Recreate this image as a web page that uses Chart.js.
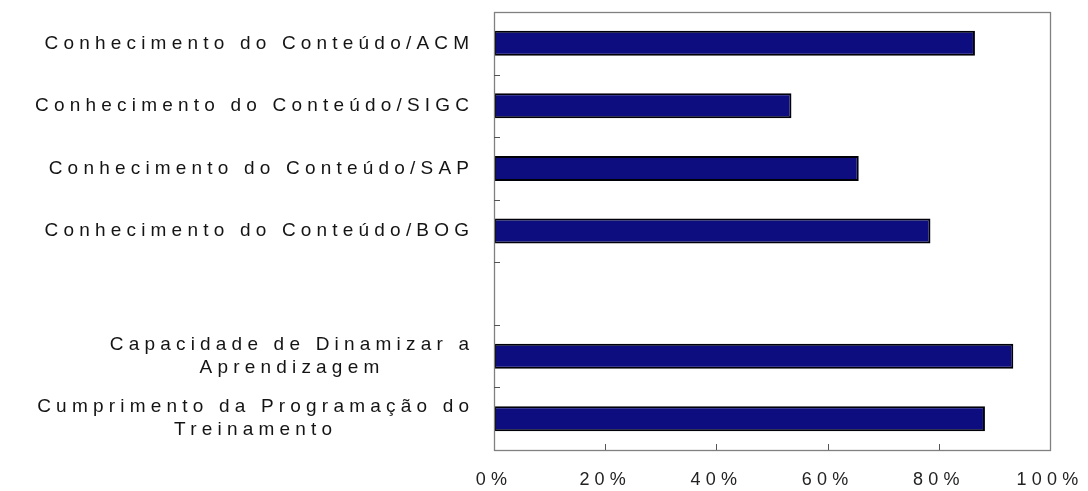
<!DOCTYPE html>
<html lang="pt">
<head>
<meta charset="utf-8">
<title>Avaliação do treinamento</title>
<script src="https://cdn.jsdelivr.net/npm/chart.js@4.4.1/dist/chart.umd.min.js"></script>
<style>
  html, body { margin: 0; padding: 0; background: #ffffff; }
  #wrap { width: 1088px; height: 491px; position: relative; }
</style>
</head>
<body>
<div id="wrap"><canvas id="chart"></canvas></div>
<script>
// Categories (one empty slot separates the two groups)
const categories = [
  ['Conhecimento do Conteúdo/ACM'],
  ['Conhecimento do Conteúdo/SIGC'],
  ['Conhecimento do Conteúdo/SAP'],
  ['Conhecimento do Conteúdo/BOG'],
  [''],
  ['Capacidade de Dinamizar a', 'Aprendizagem'],
  ['Cumprimento da Programação do', 'Treinamento']
];
// Share of positive evaluations, in percent
const values = [86.5, 53.5, 65.6, 78.5, null, 93.4, 88.3];
// Horizontal axis ticks
const xTicks = [0, 20, 40, 60, 80, 100];

const FONT_FAMILY = '"Liberation Sans", Arial, sans-serif';
const LABEL_FONT = '19px ' + FONT_FAMILY;
const SPACING = 5.2;

// Wide letter spacing on all canvas text
const spacingPlugin = {
  id: 'spacing',
  beforeDraw(chart) { chart.ctx.letterSpacing = SPACING + 'px'; },
  afterDraw(chart) { chart.ctx.letterSpacing = '0px'; }
};

// Plot frame and inward tick marks
const framePlugin = {
  id: 'frame',
  afterDatasetsDraw(chart) {
    const { ctx, chartArea: a, scales: { x, y } } = chart;
    ctx.save();
    ctx.strokeStyle = '#808080';
    ctx.lineWidth = 1.3;
    ctx.strokeRect(a.left + 0.5, a.top + 0.5, a.right - a.left, a.bottom - a.top);
    ctx.strokeStyle = '#555';
    ctx.lineWidth = 1;
    ctx.beginPath();
    xTicks.slice(1, -1).forEach(v => {
      const px = Math.round(x.getPixelForValue(v)) + 0.5;
      ctx.moveTo(px, a.bottom);
      ctx.lineTo(px, a.bottom - 6);
    });
    for (let i = 0; i < categories.length - 1; i++) {
      const py = Math.round((y.getPixelForValue(i) + y.getPixelForValue(i + 1)) / 2) + 0.5;
      ctx.moveTo(a.left, py);
      ctx.lineTo(a.left + 6, py);
    }
    ctx.stroke();
    ctx.restore();
  }
};

// Category labels: block right-aligned, lines centred within the block
const categoryLabels = {
  id: 'categoryLabels',
  afterDraw(chart) {
    const { ctx, chartArea: a, scales: { y } } = chart;
    ctx.save();
    ctx.font = LABEL_FONT;
    ctx.letterSpacing = SPACING + 'px';
    ctx.fillStyle = '#141414';
    ctx.textAlign = 'left';
    ctx.textBaseline = 'middle';
    const right = a.left - 25;
    const lineH = 23;
    categories.forEach((lines, i) => {
      const widths = lines.map(t => ctx.measureText(t).width - SPACING);
      const blockW = Math.max(...widths);
      const cx = right - blockW / 2;
      const cy = y.getPixelForValue(i);
      lines.forEach((t, j) => {
        const ly = cy + (j - (lines.length - 1) / 2) * lineH;
        ctx.fillText(t, cx - widths[j] / 2, ly);
      });
    });
    ctx.restore();
  }
};

new Chart(document.getElementById('chart'), {
  type: 'bar',
  data: {
    labels: categories,
    datasets: [{
      data: values,
      backgroundColor: '#0d0d80',
      borderColor: '#000008',
      borderWidth: 2,
      borderSkipped: false,
      barPercentage: 0.4,
      categoryPercentage: 1
    }]
  },
  options: {
    indexAxis: 'y',
    responsive: true,
    maintainAspectRatio: false,
    animation: false,
    layout: { padding: { top: 12, right: 38, bottom: 0, left: 0 } },
    plugins: { legend: { display: false }, tooltip: { enabled: false } },
    scales: {
      y: {
        type: 'category',
        offset: true,
        grid: { display: false, drawTicks: false },
        border: { display: false },
        ticks: { display: false },
        afterFit(s) { s.width = 494; s.paddingTop = 0; s.paddingBottom = 0; }
      },
      x: {
        min: 0,
        max: 100,
        afterBuildTicks(s) { s.ticks = xTicks.map(v => ({ value: v })); },
        grid: { display: false, drawTicks: false },
        border: { display: false },
        ticks: {
          padding: 19,
          color: '#222',
          font: { family: FONT_FAMILY, size: 18 },
          maxRotation: 0,
          callback: v => v + '%'
        },
        afterFit(s) { s.height = 41; s.paddingLeft = 0; s.paddingRight = 0; }
      }
    }
  },
  plugins: [spacingPlugin, framePlugin, categoryLabels]
});
</script>
</body>
</html>
